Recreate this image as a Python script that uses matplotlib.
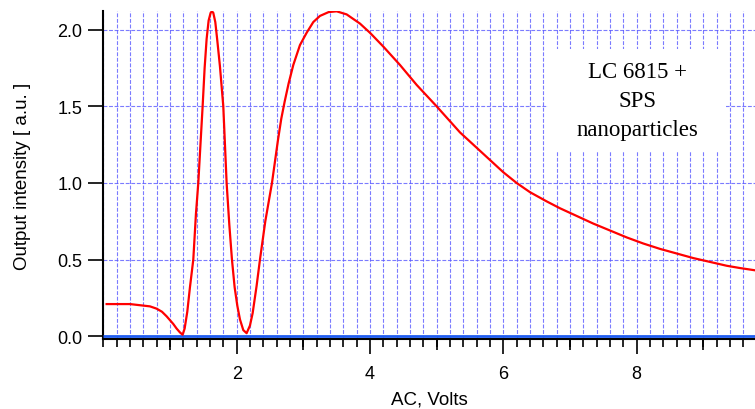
import matplotlib
matplotlib.use("Agg")
import matplotlib.pyplot as plt
from matplotlib.patches import Rectangle
from matplotlib.ticker import MultipleLocator, FormatStrFormatter

# (AC volts, output intensity a.u.)
volts = [0.05, 0.40, 0.60, 0.70, 0.80, 0.88, 0.95, 1.00, 1.05, 1.10, 1.15, 1.19,
         1.22, 1.26, 1.30, 1.35, 1.39, 1.425, 1.46, 1.49, 1.52, 1.55, 1.58, 1.61,
         1.63, 1.65, 1.68, 1.71, 1.75, 1.80, 1.825, 1.85, 1.89, 1.93, 1.97, 2.01,
         2.05, 2.10, 2.15, 2.20, 2.24, 2.30, 2.35, 2.43, 2.53, 2.62, 2.67, 2.72,
         2.78, 2.85, 2.95, 3.05, 3.15, 3.25, 3.38, 3.50, 3.65, 3.85, 4.00, 4.20,
         4.45, 4.70, 5.00, 5.35, 5.60, 5.80, 6.00, 6.20, 6.40, 6.65, 6.85, 7.15,
         7.35, 7.60, 7.85, 8.10, 8.35, 8.60, 8.85, 9.10, 9.35, 9.55, 9.78]
intensity = [0.21, 0.21, 0.20, 0.195, 0.18, 0.16, 0.13, 0.105, 0.08, 0.05, 0.025, 0.01,
             0.05, 0.16, 0.32, 0.50, 0.80, 1.00, 1.27, 1.50, 1.75, 1.94, 2.06, 2.11,
             2.12, 2.11, 2.05, 1.93, 1.76, 1.50, 1.25, 1.00, 0.73, 0.50, 0.32, 0.20,
             0.11, 0.04, 0.02, 0.07, 0.15, 0.33, 0.50, 0.75, 1.00, 1.28, 1.42, 1.53,
             1.65, 1.77, 1.90, 1.98, 2.05, 2.09, 2.115, 2.12, 2.10, 2.04, 1.98, 1.89,
             1.77, 1.64, 1.50, 1.33, 1.23, 1.15, 1.07, 1.00, 0.94, 0.88, 0.835, 0.775,
             0.735, 0.69, 0.645, 0.605, 0.57, 0.54, 0.51, 0.485, 0.46, 0.445, 0.43]
zero_x = [0.0, 9.78]
zero_y = [0.0, 0.0]
odd_ticks = [1, 3, 5, 7, 9]
label_text = "LC 6815 +\nSPS\nnanoparticles"

plt.rcParams["font.family"] = ["Liberation Sans", "DejaVu Sans"]

fig = plt.figure(figsize=(7.55, 4.10), dpi=100)
ax = fig.add_axes([0.1368, 0.1707, 0.8632, 0.80])

ax.set_axisbelow(True)
ax.plot(zero_x, zero_y, color="#1f5cf0", lw=2.0, zorder=3, solid_capstyle="butt")
ax.plot(volts, intensity, color="#ff0000", lw=1.6, zorder=4)

ax.set_xlim(0, 9.775)
ax.set_ylim(-0.018, 2.122)

ax.xaxis.set_major_locator(MultipleLocator(2))
ax.xaxis.set_minor_locator(MultipleLocator(0.2))
ax.yaxis.set_major_locator(MultipleLocator(0.5))
ax.yaxis.set_major_formatter(FormatStrFormatter("%.1f"))
ax.set_xticks([2, 4, 6, 8])

ax.tick_params(axis="x", which="major", length=10.5, width=1.2, labelsize=13, pad=8)
ax.tick_params(axis="x", which="minor", length=5.8, width=1.2)
ax.tick_params(axis="y", which="major", length=10.5, width=1.2, labelsize=13, pad=4.5)

sec = ax.secondary_xaxis("bottom")
sec.set_xticks(odd_ticks)
sec.tick_params(length=7.8, width=1.2, labelbottom=False)
sec.spines["bottom"].set_visible(False)

ax.grid(which="both", axis="x", color="#5a5aff", lw=0.8, ls=(0, (3.5, 1.5)), alpha=0.8)
ax.grid(which="major", axis="y", color="#5a5aff", lw=0.8, ls=(0, (3.5, 1.5)), alpha=0.8)

for s in ("top", "right"):
    ax.spines[s].set_visible(False)
for s in ("left", "bottom"):
    ax.spines[s].set_linewidth(1.5)

ax.set_xlabel("AC, Volts", fontsize=13.5, labelpad=6)
ax.set_ylabel("Output intensity [ a.u. ]", fontsize=13.5, labelpad=19)

ax.add_patch(Rectangle((0.682, 0.570), 0.273, 0.314, transform=ax.transAxes,
                       facecolor="white", edgecolor="none", zorder=2))
ax.text(0.819, 0.727, label_text, transform=ax.transAxes, ha="center", va="center",
        fontsize=16.5, family="Liberation Serif", linespacing=1.5, zorder=5)

fig.savefig("out.png", dpi=100)
